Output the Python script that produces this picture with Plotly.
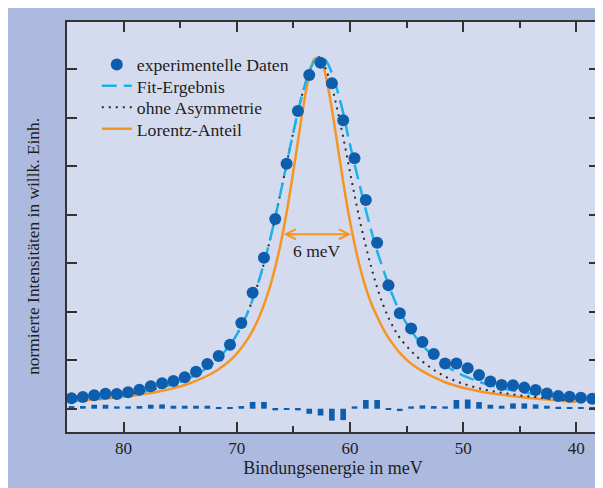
import plotly.graph_objects as go

# ---------------- data ----------------
energy = [84.6, 83.6, 82.6, 81.6, 80.6, 79.6, 78.6, 77.6, 76.6, 75.6, 74.6, 73.6,
          72.6, 71.6, 70.6, 69.6, 68.6, 67.6, 66.6, 65.6, 64.6, 63.6, 62.6, 61.6,
          60.6, 59.6, 58.6, 57.6, 56.6, 55.6, 54.6, 53.6, 52.6, 51.6, 50.6, 49.6,
          48.6, 47.6, 46.6, 45.6, 44.6, 43.6, 42.6, 41.6, 40.6, 39.6, 38.6]
intensity = [0.214, 0.241, 0.276, 0.309, 0.303, 0.338, 0.392, 0.462, 0.524, 0.571,
             0.647, 0.763, 0.922, 1.087, 1.320, 1.767, 2.392, 3.113, 3.911, 5.052,
             6.138, 6.881, 7.134, 6.709, 5.946, 5.163, 4.303, 3.423, 2.544, 1.967,
             1.654, 1.375, 1.128, 0.934, 0.934, 0.837, 0.697, 0.559, 0.489, 0.482,
             0.435, 0.386, 0.315, 0.262, 0.247, 0.227, 0.206]
residual = [0.055, 0.055, 0.082, 0.082, 0.048, 0.048, 0.055, 0.082, 0.089, 0.062,
            0.062, 0.062, 0.062, 0.034, 0.030, 0.055, 0.140, 0.140, -0.034, -0.027,
            -0.034, -0.105, -0.140, -0.245, -0.235, 0.048, 0.180, 0.180, -0.020, -0.048,
            0.048, 0.069, 0.055, 0.048, 0.180, 0.190, 0.137, 0.082, 0.062, 0.110,
            0.110, 0.089, 0.062, 0.040, 0.034, 0.027, 0.020]

curve_x = [84.6, 83.6, 82.6, 81.6, 80.6, 79.6, 78.6, 77.6, 76.6, 75.6, 74.6, 73.6,
           72.6, 71.6, 71.1, 70.6, 70.1, 69.6, 69.1, 68.6, 68.1, 67.6, 67.1, 66.6,
           66.1, 65.6, 65.1, 64.6, 64.1, 63.6, 63.1, 62.6, 62.1, 61.6, 61.1, 60.6,
           60.1, 59.6, 59.1, 58.6, 58.1, 57.6, 57.1, 56.6, 56.1, 55.6, 54.6, 53.6,
           52.6, 51.6, 50.6, 49.6, 48.6, 47.6, 46.6, 45.6, 44.6, 43.6, 42.6, 41.6,
           40.6, 40.0]
fit_y = [0.165, 0.18, 0.20, 0.225, 0.255, 0.29, 0.335, 0.385, 0.44, 0.51, 0.59, 0.70,
         0.85, 1.05, 1.17, 1.31, 1.49, 1.70, 1.95, 2.25, 2.60, 3.00, 3.45, 3.95,
         4.49, 5.05, 5.60, 6.12, 6.58, 6.95, 7.18, 7.26, 7.17, 6.92, 6.55, 6.10,
         5.55, 5.05, 4.57, 4.10, 3.65, 3.25, 2.90, 2.56, 2.26, 2.00, 1.61, 1.31,
         1.08, 0.895, 0.755, 0.645, 0.555, 0.485, 0.425, 0.375, 0.335, 0.30, 0.27, 0.245,
         0.225, 0.215]
symmetric_y = [0.165, 0.18, 0.20, 0.225, 0.255, 0.29, 0.335, 0.385, 0.44, 0.51, 0.59, 0.70,
               0.85, 1.05, 1.17, 1.31, 1.49, 1.70, 1.95, 2.25, 2.60, 3.00, 3.45, 3.95,
               4.49, 5.05, 5.60, 6.12, 6.58, 6.95, 7.18, 7.25, 6.98, 6.64, 6.15, 5.60,
               5.00, 4.41, 3.85, 3.35, 2.90, 2.50, 2.16, 1.88, 1.65, 1.46, 1.19, 0.975,
               0.80, 0.665, 0.565, 0.485, 0.42, 0.37, 0.33, 0.295, 0.265, 0.24, 0.215, 0.19,
               0.168, 0.16]
lorentz_y = [0.16, 0.175, 0.19, 0.21, 0.23, 0.255, 0.29, 0.325, 0.37, 0.425, 0.49, 0.575,
             0.68, 0.815, 0.90, 0.995, 1.11, 1.25, 1.415, 1.61, 1.85, 2.14, 2.49, 2.92,
             3.43, 4.04, 4.75, 5.51, 6.26, 6.88, 7.22, 7.20, 6.82, 6.18, 5.43, 4.68,
             3.99, 3.40, 2.90, 2.49, 2.16, 1.90, 1.66, 1.46, 1.30, 1.15, 0.93, 0.775,
             0.65, 0.545, 0.47, 0.41, 0.36, 0.32, 0.287, 0.257, 0.232, 0.21, 0.19, 0.172,
             0.15, 0.142]

fwhm_x = [66.0, 59.9]
half_max = 3.6
fwhm_label = "6 meV"

x_ticks = [80, 70, 60, 50, 40]
y_ticks = [0, 1, 2, 3, 4, 5, 6, 7]
x_title = "Bindungsenergie in meV"
y_title = "normierte Intensitäten in willk. Einh."

# ---------------- styles ----------------
BLUE = "#0e5eae"
CYAN = "#1db1e9"
ORANGE = "#f59523"
DOT = "#2a2a2a"
TXT = "#1e1e1e"
FONT = "Liberation Serif"
OUTER = "#adbadf"
INNER = "#d5dbee"

fig = go.Figure()

fig.add_trace(go.Bar(x=energy, y=residual, width=0.5, marker=dict(color=BLUE, line=dict(width=0)),
                     showlegend=False, hoverinfo="skip"))
fig.add_trace(go.Scatter(x=curve_x, y=lorentz_y, mode="lines", name="Lorentz-Anteil",
                         line=dict(color=ORANGE, width=2.5, shape="spline"), legend="legend4"))
fig.add_trace(go.Scatter(x=curve_x, y=symmetric_y, mode="lines", name="ohne Asymmetrie",
                         line=dict(color=DOT, width=2, dash="2px,5px", shape="spline"), legend="legend3"))
fig.add_trace(go.Scatter(x=curve_x, y=fit_y, mode="lines", name="Fit-Ergebnis",
                         line=dict(color=CYAN, width=2.5, dash="15px,7px", shape="spline"), legend="legend2"))
fig.add_trace(go.Scatter(x=energy, y=intensity, mode="markers", name="experimentelle Daten",
                         marker=dict(color=BLUE, size=12, line=dict(width=0)), legend="legend"))

fig.add_annotation(x=fwhm_x[1], y=half_max, ax=fwhm_x[0], ay=half_max,
                   xref="x", yref="y", axref="x", ayref="y", text="",
                   showarrow=True, arrowside="end+start", arrowhead=5, startarrowhead=5,
                   arrowsize=1, startarrowsize=1, arrowwidth=2, arrowcolor=ORANGE)
fig.add_annotation(x=sum(fwhm_x) / 2, y=half_max, yshift=-17, xref="x", yref="y",
                   text=fwhm_label, showarrow=False,
                   font=dict(family=FONT, size=17.5, color=TXT))
fig.add_annotation(x=-0.0636, y=0.452, xref="paper", yref="paper", text=y_title,
                   textangle=-90, showarrow=False, xanchor="center", yanchor="middle",
                   font=dict(family=FONT, size=17.4, color=TXT))

axis_common = dict(showline=True, linecolor="#333333", linewidth=2, mirror="ticks",
                   ticks="inside", tickcolor="#333333", tickwidth=1.5, ticklen=10,
                   showgrid=False, zeroline=False)

fig.update_xaxes(range=[85, 38], tickvals=x_ticks, ticktext=[str(v) for v in x_ticks],
                 minor=dict(ticks="inside", dtick=5, tick0=0, ticklen=6, tickwidth=1.5,
                            tickcolor="#333333", showgrid=False),
                 tickfont=dict(family=FONT, size=17, color=TXT),
                 title=dict(text=x_title, standoff=3,
                            font=dict(family=FONT, size=18, color=TXT)),
                 **axis_common)
fig.update_yaxes(range=[-0.48, 7.974], tickvals=y_ticks, showticklabels=False, **axis_common)

leg_common = dict(x=0.056, xanchor="left", yanchor="middle", bgcolor="rgba(0,0,0,0)",
                  borderwidth=0, font=dict(family=FONT, size=17.7, color=TXT))
fig.update_layout(
    width=603, height=488,
    margin=dict(l=59, r=9.5, t=14, b=64),
    paper_bgcolor=OUTER, plot_bgcolor=INNER,
    font=dict(family=FONT, size=17, color=TXT),
    barmode="overlay",
    legend=dict(y=0.8951, **leg_common),
    legend2=dict(y=0.8432, **leg_common),
    legend3=dict(y=0.7910, **leg_common),
    legend4=dict(y=0.7383, **leg_common),
)

fig.write_html("out.html")
